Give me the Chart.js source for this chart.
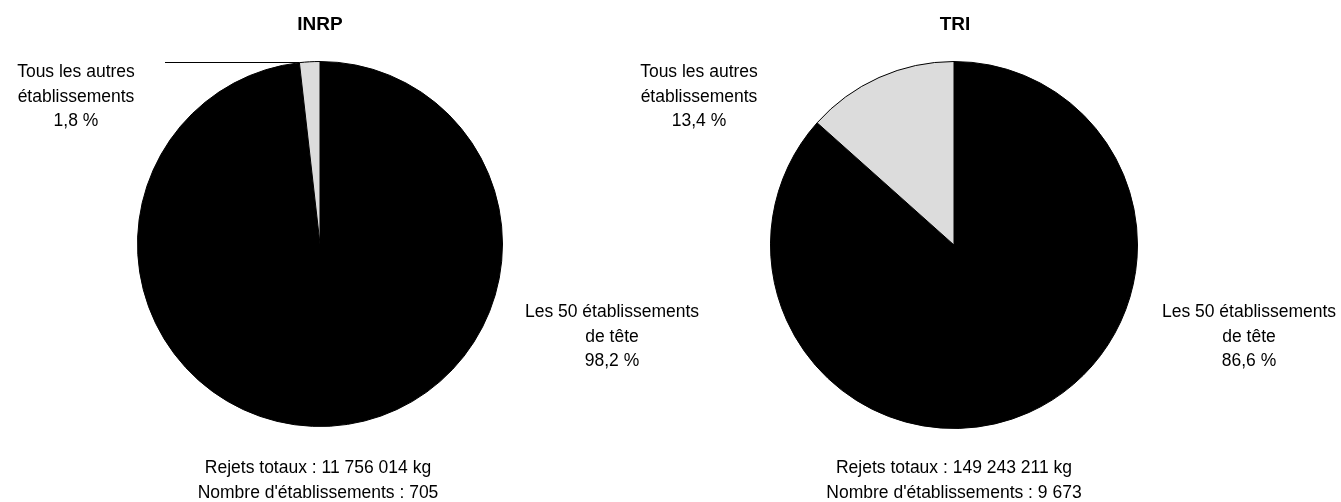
<!DOCTYPE html>
<html>
<head>
<meta charset="utf-8">
<script src="https://cdn.jsdelivr.net/npm/chart.js@4/dist/chart.umd.min.js"></script>
<style>
  body { margin: 0; background: #fff; }
  #wrap { position: relative; width: 1341px; height: 502px; overflow: hidden; font-family: "Liberation Sans", Arial, sans-serif; color: #000; }
  canvas { position: absolute; top: 0; }
  .lbl { position: absolute; transform: translateX(-50%); white-space: nowrap; text-align: center; font-size: 17.5px; line-height: 24.5px; }
  .ttl { position: absolute; transform: translateX(-50%); white-space: nowrap; font-weight: bold; font-size: 19px; line-height: 24px; }
</style>
</head>
<body>
<div id="wrap">
  <canvas id="inrp" width="640" height="502" style="left:0"></canvas>
  <canvas id="tri" width="701" height="502" style="left:640px"></canvas>

  <div class="ttl" style="left:320px;top:12px">INRP</div>
  <div class="ttl" style="left:955px;top:12px">TRI</div>

  <div class="lbl" style="left:76px;top:59px">Tous les autres<br>établissements<br>1,8 %</div>
  <div class="lbl" style="left:612px;top:299px">Les 50 établissements<br>de tête<br>98,2 %</div>
  <div class="lbl" style="left:318px;top:455px">Rejets totaux : 11 756 014 kg<br>Nombre d'établissements : 705</div>

  <div class="lbl" style="left:699px;top:59px">Tous les autres<br>établissements<br>13,4 %</div>
  <div class="lbl" style="left:1249px;top:299px">Les 50 établissements<br>de tête<br>86,6 %</div>
  <div class="lbl" style="left:954px;top:455px">Rejets totaux : 149 243 211 kg<br>Nombre d'établissements : 9 673</div>
</div>
<script>
// data
const categories = ["Les 50 établissements de tête", "Tous les autres établissements"];
const inrpShares = [98.2, 1.8];
const triShares = [86.6, 13.4];
const sliceColors = ["#000000", "#dcdcdc"];

// leader line from the INRP label to the small slice
const leaderLine = {
  id: "leaderLine",
  afterDatasetsDraw(chart) {
    const arc = chart.getDatasetMeta(0).data[1];
    const ex = arc.x + arc.outerRadius * Math.cos(arc.startAngle);
    const ey = arc.y + arc.outerRadius * Math.sin(arc.startAngle);
    const ctx = chart.ctx;
    ctx.save();
    ctx.strokeStyle = "#000";
    ctx.lineWidth = 1;
    ctx.beginPath();
    ctx.moveTo(165, Math.round(ey) - 0.5);
    ctx.lineTo(ex, Math.round(ey) - 0.5);
    ctx.stroke();
    ctx.restore();
  },
};

function makePie(id, values, pad, plugins) {
  return new Chart(document.getElementById(id).getContext("2d"), {
    type: "pie",
    data: {
      labels: categories,
      datasets: [
        {
          data: values,
          backgroundColor: sliceColors,
          borderColor: "#000",
          borderWidth: 1,
        },
      ],
    },
    options: {
      responsive: false,
      animation: false,
      layout: { padding: pad },
      plugins: { legend: { display: false }, tooltip: { enabled: false } },
    },
    plugins: plugins,
  });
}

//INRP
let inrpChart = makePie("inrp", inrpShares, { left: 137, right: 137, top: 61, bottom: 75 }, [leaderLine]);

//TRI
let triChart = makePie("tri", triShares, { left: 130, right: 203, top: 61, bottom: 73 }, []);
</script>
</body>
</html>
